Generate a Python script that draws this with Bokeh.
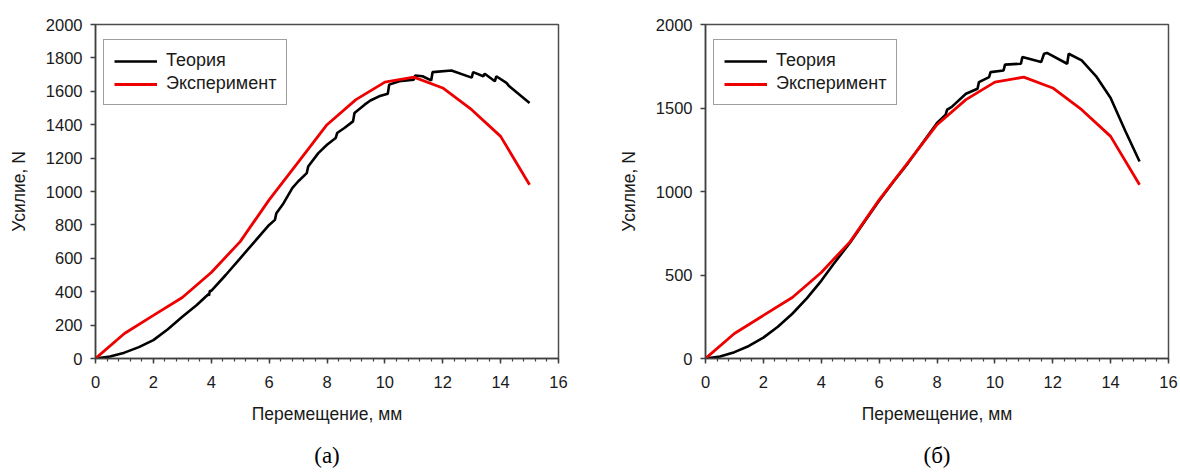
from bokeh.plotting import figure
from bokeh.layouts import row
from bokeh.models import Range1d, SingleIntervalTicker, Legend, LegendItem, Title
from bokeh.embed import file_html
from bokeh.resources import INLINE

# Experiment (same in both panels)
exp_x = [0, 1, 2, 3, 4, 5, 6, 7, 8, 9, 10, 11, 12, 13, 14, 15]
exp_y = [0, 150, 258, 365, 515, 700, 950, 1175, 1400, 1550, 1655, 1685, 1620, 1490, 1330, 1040]

# Theory, panel (а)
theo_a_x = [0, 0.5, 1, 1.5, 2, 2.5, 3, 3.5, 3.9, 3.92, 3.95, 4, 4.5, 5, 5.5, 6, 6.2, 6.25,
            6.5, 6.8, 7, 7.3, 7.35, 7.7, 8, 8.3, 8.35, 8.6, 8.9, 8.95, 9.3, 9.5, 9.8, 10.1,
            10.15, 10.5, 11, 11.05, 11.3, 11.6, 11.65, 12.3, 13.0, 13.05, 13.4, 13.45, 13.8,
            13.85, 14.2, 14.3, 15]
theo_a_y = [0, 12, 35, 68, 110, 175, 250, 320, 385, 375, 405, 405, 500, 600, 700, 800, 830, 870,
            930, 1020, 1060, 1110, 1150, 1230, 1280, 1320, 1350, 1380, 1420, 1470, 1520, 1545, 1570, 1585,
            1640, 1660, 1670, 1695, 1690, 1665, 1715, 1725, 1682, 1715, 1690, 1705, 1660,
            1690, 1650, 1630, 1530]

# Theory, panel (б)
theo_b_x = [0, 0.5, 1, 1.5, 2, 2.5, 3, 3.5, 4, 4.4, 5, 5.5, 6, 6.5, 7, 7.5, 8, 8.3, 8.35, 8.5,
            9, 9.4, 9.45, 9.8, 9.85, 10.3, 10.35, 10.9, 10.95, 11.6, 11.7, 11.8, 12.5, 12.55,
            13, 13.5, 14, 14.5, 15]
theo_b_y = [0, 12, 38, 75, 125, 190, 268, 360, 465, 560, 695, 820, 945, 1060, 1170, 1290, 1410, 1460, 1490, 1505,
            1585, 1615, 1655, 1685, 1715, 1725, 1760, 1765, 1805, 1775, 1825, 1830, 1765, 1825,
            1785, 1690, 1560, 1365, 1180]

x_label = "Перемещение, мм"
y_label = "Усилие, N"
legend_labels = ["Теория", "Эксперимент"]
captions = ["(а)", "(б)"]

FONT = "Liberation Sans"


def make_panel(tx, ty, y_interval, caption, border_left, frame_w, border_right):
    p = figure(output_backend="svg", toolbar_location=None,
               frame_width=frame_w, frame_height=334,
               min_border_left=border_left, min_border_right=border_right,
               min_border_top=24, min_border_bottom=114,
               x_range=Range1d(0, 16), y_range=Range1d(0, 2000))
    p.background_fill_color = "white"
    p.border_fill_color = "white"
    p.outline_line_color = "#4d4d4d"
    p.outline_line_width = 1.5
    p.grid.visible = False

    p.xaxis.ticker = SingleIntervalTicker(interval=2, num_minor_ticks=5)
    p.yaxis.ticker = SingleIntervalTicker(interval=y_interval, num_minor_ticks=0)
    for ax in (p.xaxis[0], p.yaxis[0]):
        ax.axis_line_color = "#404040"
        ax.axis_line_width = 1.5
        ax.major_tick_line_color = "#404040"
        ax.major_tick_line_width = 1.5
        ax.major_tick_in = 0
        ax.major_tick_out = 5
        ax.minor_tick_line_color = "#404040"
        ax.minor_tick_line_width = 1.2
        ax.minor_tick_in = 0
        ax.minor_tick_out = 3
        ax.major_label_text_font = FONT
        ax.major_label_text_font_size = "16.5px"
        ax.major_label_text_color = "#1a1a1a"
        ax.axis_label_text_font = FONT
        ax.axis_label_text_font_size = "17.5px"
        ax.axis_label_text_font_style = "normal"
        ax.axis_label_text_color = "#1a1a1a"
    p.yaxis.minor_tick_line_color = None
    p.xaxis.axis_label = x_label
    p.yaxis.axis_label = y_label
    p.xaxis.major_label_standoff = 12
    p.yaxis.major_label_standoff = 8
    p.xaxis.axis_label_standoff = 13
    p.yaxis.axis_label_standoff = 14

    r1 = p.line(tx, ty, line_color="black", line_width=2.6)
    r2 = p.line(exp_x, exp_y, line_color="#ee0000", line_width=2.8)

    legend = Legend(items=[LegendItem(label=legend_labels[0], renderers=[r1]),
                           LegendItem(label=legend_labels[1], renderers=[r2])],
                    location=(8, 253))
    legend.border_line_color = "#404040"
    legend.border_line_width = 1.5
    legend.background_fill_alpha = 1
    legend.padding = 10
    legend.spacing = 2
    legend.glyph_width = 43
    legend.glyph_height = 20
    legend.label_height = 20
    legend.label_standoff = 9
    legend.label_text_font = FONT
    legend.label_text_font_size = "18px"
    legend.label_text_color = "#1a1a1a"
    legend.label_text_baseline = "middle"
    p.add_layout(legend, "center")

    cap = Title(text=caption, align="center", text_font="Liberation Serif",
                text_font_size="23px", text_font_style="normal", text_color="black",
                standoff=28)
    p.add_layout(cap, "below")
    return p


p1 = make_panel(theo_a_x, theo_a_y, 200, captions[0], 95, 463, 32)
p2 = make_panel(theo_b_x, theo_b_y, 500, captions[1], 115, 463, 12)

layout = row(p1, p2, spacing=0)
open("out.html", "w").write(file_html(layout, INLINE))
